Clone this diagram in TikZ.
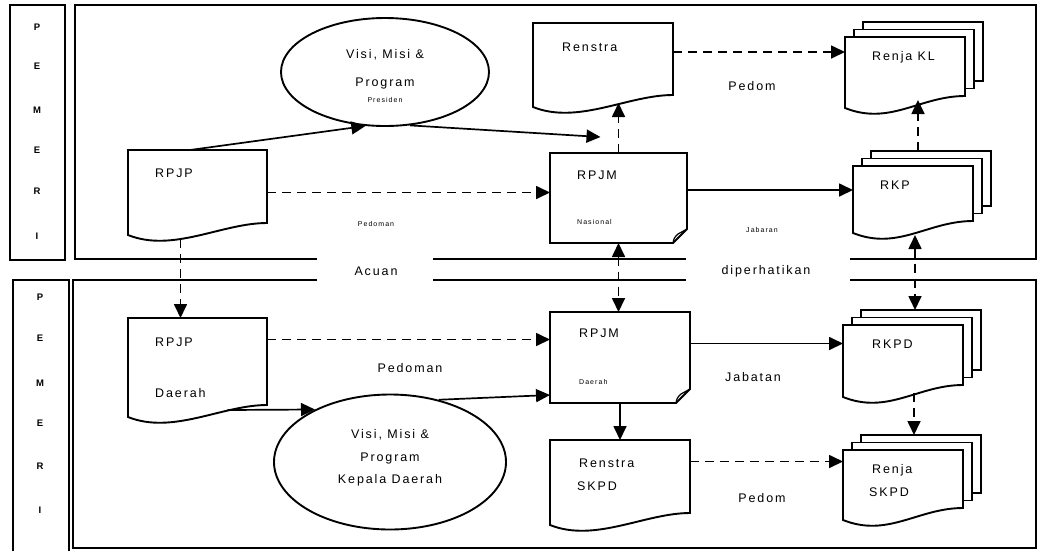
\documentclass[tikz,border=0pt]{standalone}
\usepackage{fontspec}
\usetikzlibrary{arrows.meta,calc,shapes.geometric,positioning}
\newfontfamily\diafont[LetterSpace=15]{Liberation Sans}

% document outline with wavy bottom
\newcommand\docshape[1]{%
  \draw[docline] (#1.north west) -- (#1.north east) -- ([yshift=12pt]#1.south east)
    .. controls +(-45pt,0pt) and +(45pt,-18pt) .. (#1.south west) -- cycle;}
% three stacked documents
\newcommand\stackshape[1]{%
  \foreach \s in {2,1}
    \draw[docline] ($(#1.north west)+(9*\s,-7.5*\s)$) rectangle ($(#1.south east)+(9*\s,-12-7.5*\s)$);
  \docshape{#1}}
% page with folded corner
\newcommand\noteshape[1]{%
  \draw[docline] (#1.north west) -- (#1.north east) -- ($(#1.south east)+(0,-14)$)
    -- ($(#1.south east)+(-14,0)$) -- (#1.south west) -- cycle;
  \draw[line width=1.2pt] ($(#1.south east)+(-14,0)$) .. controls +(1,-5) .. ($(#1.south east)+(-9,-9)$)
    -- ($(#1.south east)+(0,-14)$);}

\begin{document}
\begin{tikzpicture}[x=1pt,y=-1pt,
    txt/.style={font=\diafont\fontsize{12.5}{14}\selectfont, inner sep=0pt},
    tiny/.style={font=\diafont\fontsize{7}{8}\selectfont, inner sep=0pt},
    stripl/.style={font=\diafont\bfseries\fontsize{9.5}{10}\selectfont, inner sep=0pt},
    frame/.style={line width=2.2pt},
    docline/.style={line width=1.9pt, fill=white},
    docbox/.style={inner sep=0pt, outer sep=0pt},
    vision/.style={ellipse, draw, line width=1.9pt, inner sep=0pt},
    arr/.style={line width=1.7pt, -{Triangle[length=14pt,width=13pt]}},
    darr/.style={arr, dash pattern=on 9pt off 6pt},
    ddarr/.style={darr, {Triangle[length=14pt,width=13pt]}-{Triangle[length=14pt,width=13pt]}}]

\useasboundingbox (0,0) rectangle (1038,550);

% frames
\draw[frame] (10,5) rectangle (65,260);
\draw[frame] (13,280) rectangle (69,556);
\draw[frame] (317,259) -- (75,259) -- (75,5) -- (1036,5) -- (1036,259) -- (850,259);
\draw[frame] (433,259) -- (686,259);
\draw[frame] (317,280) -- (73,280) -- (73,548) -- (1036,548) -- (1036,280) -- (850,280);
\draw[frame] (433,280) -- (686,280);

\node[txt] (acuan) at (376,271) {Acuan};
\node[txt] (diper) at (766,271) {diperhatikan};

\foreach \ch/\yy [count=\i] in {P/27,E/66,M/110,E/150,R/191,I/236}
  \node[stripl] (atas\i) at (37,\yy) {\ch};
\foreach \ch/\yy [count=\i] in {P/297,E/338,M/383,E/423,R/466,I/510}
  \node[stripl] (bawah\i) at (40,\yy) {\ch};

% boxes
\node[docbox, minimum width=139pt, minimum height=85pt] (rpjp) at (197.5,192.5) {};
\node[docbox, minimum width=140pt, minimum height=84pt] (renstra) at (603,65) {};
\node[docbox, minimum width=120pt, minimum height=71pt] (renjakl) at (905,72.5) {};
\node[docbox, minimum width=137pt, minimum height=90pt] (rpjm) at (618.5,198) {};
\node[docbox, minimum width=120pt, minimum height=67pt] (rkp) at (913,199.5) {};
\node[docbox, minimum width=139pt, minimum height=99pt] (rpjpd) at (197.5,367.5) {};
\node[docbox, minimum width=140pt, minimum height=91pt] (rpjmd) at (620,357.5) {};
\node[docbox, minimum width=120pt, minimum height=72pt] (rkpd) at (903,361) {};
\node[docbox, minimum width=140pt, minimum height=85pt] (renstrad) at (620,482.5) {};
\node[docbox, minimum width=120pt, minimum height=70pt] (renjad) at (903,485) {};
\node[vision, minimum width=208pt, minimum height=108pt] (vmp) at (385,72) {};
\node[vision, minimum width=232pt, minimum height=135pt] (vmkd) at (390,462) {};

\docshape{rpjp}
\docshape{renstra}
\stackshape{renjakl}
\noteshape{rpjm}
\stackshape{rkp}
\docshape{rpjpd}
\noteshape{rpjmd}
\stackshape{rkpd}
\docshape{renstrad}
\stackshape{renjad}

% texts in the boxes
\node[txt, anchor=west] (rpjpT) at ($(rpjp.north west)+(27,23)$) {RPJP};
\node[txt, anchor=west] (renstraT) at ($(renstra.north west)+(29,24)$) {Renstra};
\node[txt, anchor=west] (renjaklT) at ($(renjakl.north west)+(27,20)$) {Renja KL};
\node[txt, anchor=west] (rpjmT) at ($(rpjm.north west)+(27,22)$) {RPJM};
\node[tiny, anchor=west] (rpjmN) at ($(rpjm.north west)+(27,69)$) {Nasional};
\node[txt, anchor=west] (rkpT) at ($(rkp.north west)+(27,19)$) {RKP};
\node[txt, anchor=west] (rpjpdT) at ($(rpjpd.north west)+(27,24)$) {RPJP};
\node[txt, anchor=west] (rpjpdD) at ($(rpjpd.north west)+(27,75)$) {Daerah};
\node[txt, anchor=west] (rpjmdT) at ($(rpjmd.north west)+(29,21)$) {RPJM};
\node[tiny, anchor=west] (rpjmdD) at ($(rpjmd.north west)+(29,70)$) {Daerah};
\node[txt, anchor=west] (rkpdT) at ($(rkpd.north west)+(29,19)$) {RKPD};
\node[txt, anchor=west] (renstradT) at ($(renstrad.north west)+(29,23)$) {Renstra};
\node[txt, anchor=west] (renstradS) at ($(renstrad.north west)+(27,46)$) {SKPD};
\node[txt, anchor=west] (renjadT) at ($(renjad.north west)+(29,20)$) {Renja};
\node[txt, anchor=west] (renjadS) at ($(renjad.north west)+(26,42)$) {SKPD};

\node[txt] (vmp1) at ($(vmp)+(0,-17)$) {Visi, Misi \&};
\node[txt] (vmp2) at ($(vmp)+(0,11)$) {Program};
\node[tiny] (vmp3) at ($(vmp)+(0,28)$) {Presiden};
\node[txt] (vmkd1) at ($(vmkd)+(0,-27)$) {Visi, Misi \&};
\node[txt] (vmkd2) at ($(vmkd)+(0,-4)$) {Program};
\node[txt] (vmkd3) at ($(vmkd)+(0,18)$) {Kepala Daerah};

% labels on the arrows
\node[tiny] (pedoman1) at (376,224) {Pedoman};
\node[txt] (pedom1) at (752,86) {Pedom};
\node[tiny] (jabaran) at (762,230) {Jabaran};
\node[txt] (pedoman2) at (410,368) {Pedoman};
\node[txt] (jabatan) at (753,377) {Jabatan};
\node[txt] (pedom2) at (762,498) {Pedom};

% arrows
\coordinate (meet) at ($(rpjm.north)+(-18,-16)$);
\coordinate (renstraout) at ([yshift=13pt]renstra.east);
\coordinate (rpjmout) at ([yshift=8pt]rpjm.east);
\coordinate (rpjpdout) at ([yshift=28pt]rpjpd.east);
\coordinate (rpjmdout) at ([yshift=14pt]rpjmd.east);
\coordinate (renstradout) at ([yshift=21pt]renstrad.east);

\draw[arr] ($(rpjp.north west)+(62,0)$) -- (vmp.250);
\draw[arr] (vmp.-65) -- (meet);
\draw[darr] (rpjp.east) -- (rpjp.east -| rpjm.west);
\draw[darr] (renstraout) -- (renstraout -| renjakl.west);
\draw[darr] (rpjm.north) -- ($(renstra.south)+(15.5,-4)$);
\draw[arr] (rpjmout) -- (rpjmout -| rkp.west);
\draw[darr] ($(rkp.north)+(5,-15)$) -- ($(renjakl.south)+(13,-8)$);
\draw[ddarr] (rpjm.south) -- ($(rpjmd.north)+(-1.5,0)$);
\draw[ddarr] ($(rkp.south)+(2,2)$) -- ($(rkpd.north)+(12,-15)$);
\draw[darr] ($(rpjp.south)+(-17,4)$) -- ($(rpjpd.north)+(-17,0)$);
\draw[darr] (rpjpdout) -- (rpjpdout -| rpjmd.west);
\draw[arr] ($(rpjpd.south)+(30,-7)$) -- (vmkd.145);
\draw[arr] (vmkd.52) -- ($(rpjmd.south west)+(0,-8)$);
\draw[arr] (rpjmdout) -- (rpjmdout -| rkpd.west);
\draw[arr] (rpjmd.south) -- (renstrad.north);
\draw[darr] (renstradout) -- (renstradout -| renjad.west);
\draw[darr] ($(rkpd.south)+(11,-4)$) -- ($(renjad.north)+(11,-15)$);

\end{tikzpicture}
\end{document}
